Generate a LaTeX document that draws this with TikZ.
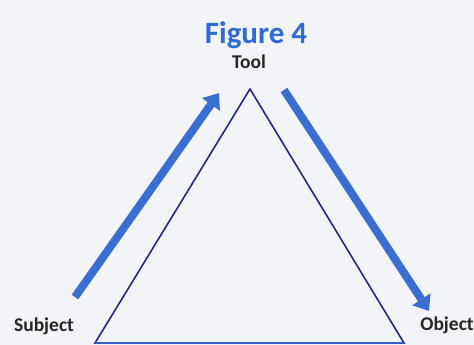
\documentclass[tikz,border=0pt]{standalone}
\usepackage{fontspec}
\setmainfont{Carlito}
\usepackage{tikz}
\usetikzlibrary{arrows.meta, positioning}
\definecolor{bgpaper}{HTML}{F3F4F8}
\definecolor{navyline}{HTML}{25258A}
\definecolor{arrblue}{HTML}{3A6ED2}
\definecolor{titleblue}{HTML}{2F6BD6}
\tikzset{
  lbl/.style    = {font=\fontsize{19.5}{21}\selectfont\bfseries, text=black!85, inner sep=1pt},
  ttl/.style    = {font=\fontsize{31}{33}\selectfont\bfseries, text=titleblue, inner sep=1pt},
  tri/.style    = {draw=navyline, line width=1.6pt, line join=miter},
  bigarr/.style = {draw=arrblue, line width=8pt,
                   -{Triangle[length=14pt, width=21pt]}},
}

\begin{document}
\begin{tikzpicture}[x=1pt, y=-1pt]
  \useasboundingbox (0,0) rectangle (474,345);
  \fill[bgpaper] (0,0) rectangle (474,345);

  % labels
  \node[ttl] (title)   at (256,35)  {Figure 4};
  \node[lbl] (tool)    at (249,62)  {Tool};
  \node[lbl] (subject) at (44,326)  {Subject};
  \node[lbl] (object)  at (447,325) {Object};

  % triangle
  \coordinate (apex)  at (250,89);
  \coordinate (left)  at (95,343);
  \coordinate (right) at (404,343);
  \draw[tri] (apex) -- (right) -- (left) -- cycle;
  \draw[tri, draw=arrblue!80!navyline, line width=2.6pt] (left) -- (right);

  % arrows
  \coordinate (a1) at (75,297);
  \coordinate (a2) at (219,93);
  \coordinate (b1) at (284,90);
  \coordinate (b2) at (429,311);
  \draw[bigarr] (a1) -- (a2);
  \draw[bigarr] (b1) -- (b2);
\end{tikzpicture}
\end{document}
